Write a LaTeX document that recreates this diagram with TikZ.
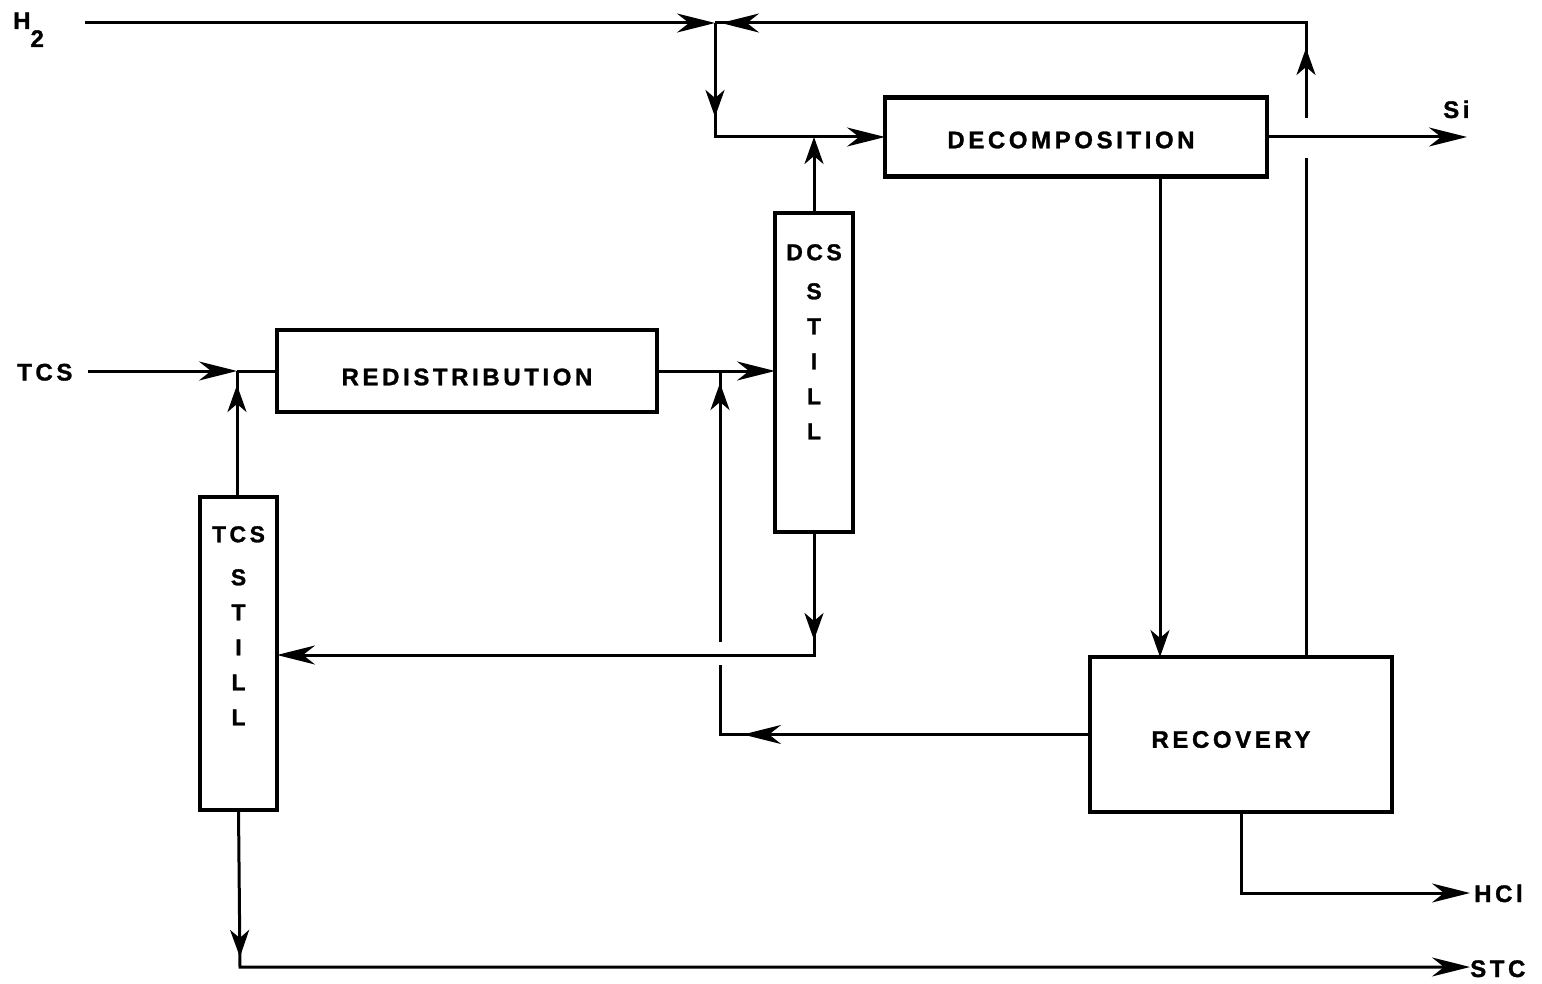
\documentclass[tikz,border=0pt]{standalone}
\usepackage{fontspec}
\setmainfont{Liberation Sans}[LetterSpace=15, BoldFeatures={FakeBold=1.2}]
\usetikzlibrary{arrows.meta,decorations.markings}
\tikzset{
  box/.style={draw, line width=4.5pt, inner sep=0pt, outer sep=0pt},
  conn/.style={draw, line width=3pt, line join=miter},
  lab/.style={inner sep=0pt, font=\fontsize{24}{36}\selectfont\bfseries},
  slab/.style={inner sep=0pt, font=\fontsize{23}{35}\selectfont\bfseries},
  eh/.style={-{Stealth[length=38pt,width=19pt,inset=12pt]}},
  ev/.style={-{Stealth[length=27pt,width=19pt,inset=8pt]}},
  mh/.style={postaction={decorate,decoration={markings,mark=at position #1 with {\arrow{Stealth[length=38pt,width=19pt,inset=12pt]}}}}},
  mv/.style={postaction={decorate,decoration={markings,mark=at position #1 with {\arrow{Stealth[length=27pt,width=19pt,inset=8pt]}}}}},
}
\begin{document}
\begin{tikzpicture}[x=1pt,y=-1pt]
\useasboundingbox (0,0) rectangle (1542,984);
% boxes
\node[box, minimum width=382pt, minimum height=79pt,
  label={[lab,name=declab,yshift=-3pt,xshift=-5pt]center:DECOMPOSITION}] (dec) at (1076,137) {};
\node[box, minimum width=380pt, minimum height=82pt,
  label={[lab,name=redlab,yshift=-6pt]center:REDISTRIBUTION}] (red) at (467,371) {};
\node[box, minimum width=78pt, minimum height=319pt] (dcs) at (814,372.5) {};
\node[box, minimum width=77pt, minimum height=313pt] (tcs) at (238.5,653.5) {};
\node[box, minimum width=302pt, minimum height=155pt,
  label={[lab,name=reclab,yshift=-5pt,xshift=-10pt]center:RECOVERY}] (rec) at (1241,734.5) {};
\node[slab, anchor=north, align=center] (dcslab) at ([yshift=-31pt]dcs.north) {DCS\\[4pt]S\\T\\I\\L\\L};
\node[slab, anchor=north, align=center] (tcslab2) at ([yshift=-29pt]tcs.north) {TCS\\[8pt]S\\T\\I\\L\\L};
% outside labels
\node[lab, anchor=base west] (h2) at (13,29) {H\raisebox{-18pt}{2}};
\node[lab, anchor=base west] (tcslab) at (17,380.5) {TCS};
\node[lab, anchor=base west] (silab) at (1443,118) {Si};
\node[lab, anchor=base west] (hcllab) at (1474,902) {HCl};
\node[lab, anchor=base west] (stclab) at (1470,977) {STC};
% coordinates
\coordinate (h2s) at (85,23);
\coordinate (j1) at (715,23);
\coordinate (j1d) at (715,137);
\coordinate (rtop) at (1306,23);
\coordinate (rhopa) at (1306,118);
\coordinate (rhopb) at (1306,158);
\coordinate (si) at (1467,137);
\coordinate (fx) at (1160,0);
\coordinate (hclc) at (1241,893);
\coordinate (hcle) at (1470,893);
\coordinate (tcsin) at (88,371);
\coordinate (j2) at (237,371);
\coordinate (k1) at (720,734.5);
\coordinate (khopa) at (720,665);
\coordinate (khopb) at (720,642);
\coordinate (l1) at (814,655);
\coordinate (m1) at (240,967);
\coordinate (stce) at (1470,967);
% connectors
\draw[conn, eh] (h2s) -- (j1);
\draw[conn, mv=70pt, mh=680pt] (rhopa) -- (rtop) -- (j1);
\draw[conn] (rec.north -| rtop) -- (rhopb);
\draw[conn, mv=94pt, eh] (j1) -- (j1d) -- (dec.west);
\draw[conn, ev] (dcs.north) -- (dcs.north |- j1d);
\draw[conn, eh] (dec.east) -- (si);
\draw[conn, ev] (dec.south -| fx) -- (rec.north -| fx);
\draw[conn, eh] (rec.south -| hclc) -- (hclc) -- (hcle);
\draw[conn, eh] (tcsin) -- (j2);
\draw[conn] (j2) -- (red.west);
\draw[conn, mv=112pt] (tcs.north -| j2) -- (j2);
\draw[conn, eh] (red.east) -- (red.east -| dcs.west);
\draw[conn, mh=347pt] (rec.west) -- (k1) -- (khopa);
\draw[conn, mv=259pt] (khopb) -- (khopb |- red.east);
\draw[conn, mv=108pt, eh] (dcs.south) -- (l1) -- (l1 -| tcs.east);
\draw[conn, mv=147pt, eh] (tcs.south) -- (m1) -- (stce);
\end{tikzpicture}
\end{document}
